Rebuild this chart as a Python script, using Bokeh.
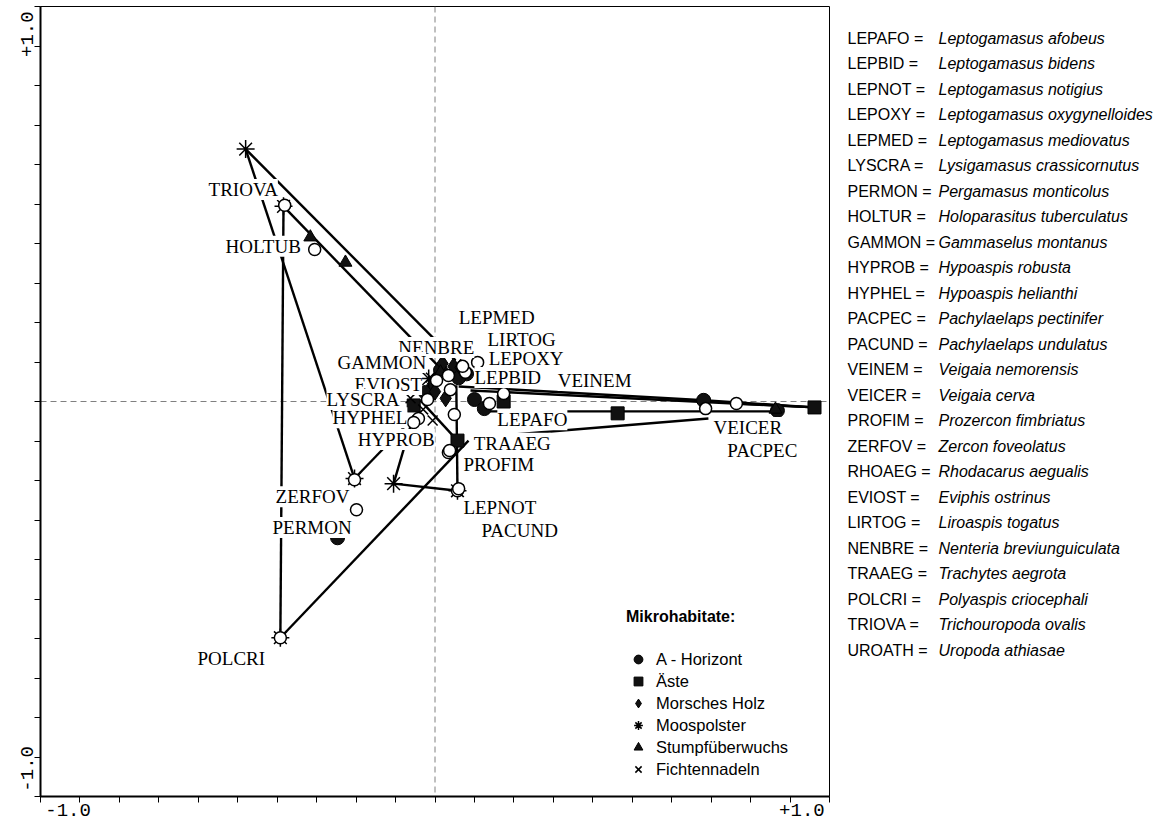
import math
from bokeh.plotting import figure
from bokeh.models import (Range1d, FixedTicker, CustomJSTickFormatter, Span,
                          Legend, LegendItem, ColumnDataSource)
from bokeh.layouts import row
from bokeh.embed import file_html
from bokeh.resources import INLINE
from bokeh.core.properties import value

# ---------------- species scores (open circles) ----------------
species = ["TRIOVA", "HOLTUB", "LEPMED", "LIRTOG", "LEPOXY", "NENBRE", "GAMMON",
           "EVIOST", "LYSCRA", "HYPHEL", "LEPBID", "VEINEM", "LEPAFO", "HYPROB",
           "TRAAEG", "PROFIM", "VEICER", "PACPEC", "ZERFOV", "PERMON", "LEPNOT",
           "PACUND", "POLCRI"]
sp_x = [-0.381, -0.305, 0.108, 0.077, 0.070, 0.034, 0.004,
        -0.019, -0.042, -0.054, 0.039, 0.174, 0.138, 0.049,
        0.034, 0.037, 0.686, 0.764, -0.204, -0.199, 0.057,
        0.060, -0.392]
sp_y = [0.497, 0.385, 0.099, 0.074, 0.089, 0.066, 0.053,
        0.005, -0.043, -0.053, 0.030, 0.020, -0.005, -0.033,
        -0.129, -0.124, -0.018, -0.005, -0.198, -0.274, -0.226,
        -0.221, -0.598]
# label anchor (left, middle) of each species name
lab_x = [-0.574, -0.531, 0.060, 0.133, 0.136, -0.093, -0.247,
         -0.204, -0.275, -0.260, 0.100, 0.311, 0.158, -0.196,
         0.098, 0.072, 0.706, 0.741, -0.404, -0.412, 0.072,
         0.118, -0.602]
lab_y = [0.537, 0.393, 0.213, 0.157, 0.109, 0.137, 0.099,
         0.043, 0.005, -0.041, 0.061, 0.053, -0.046, -0.096,
         -0.106, -0.160, -0.066, -0.124, -0.241, -0.319, -0.269,
         -0.327, -0.651]

# ---------------- samples per micro-habitat ----------------
ahor_x = [0.100, 0.125, 0.681, 0.868, -0.247, 0.014, -0.024, 0.080, 0.060]
ahor_y = [0.005, -0.018, 0.003, -0.023, -0.345, 0.079, 0.023, 0.070, 0.060]
aeste_x = [0.463, 0.962, 0.057, 0.174, -0.054]
aeste_y = [-0.030, -0.015, -0.099, 0.000, -0.010]
holz_x = [0.047, 0.019, 0.065, -0.006, 0.027, 0.000]
holz_y = [0.089, 0.096, 0.086, 0.043, 0.008, 0.025]
moos_x = [-0.480, -0.384, -0.105, -0.204, 0.057, -0.392, -0.016]
moos_y = [0.639, 0.494, -0.208, -0.195, -0.226, -0.598, 0.058]
stumpf_x = [-0.227, -0.316, 0.863, 0.014]
stumpf_y = [0.352, 0.416, -0.020, 0.074]
ficht_x = [-0.011, -0.006, -0.062, -0.030]
ficht_y = [0.061, -0.048, 0.008, -0.020]

# connecting lines between samples
seg_x0 = [-0.480, -0.480, -0.384, -0.384, -0.392, -0.105, -0.105, -0.204,
          0.054, -0.037, 0.060, 0.681, 0.115, 0.110, 0.764, 0.090]
seg_y0 = [0.639, 0.639, 0.494, 0.494, -0.598, -0.208, -0.208, -0.195,
          0.041, 0.003, 0.038, 0.003, -0.025, -0.091, -0.005, 0.028]
seg_x1 = [-0.204, 0.052, -0.392, 0.014, 0.085, 0.057, -0.054, -0.062,
          0.057, 0.057, 0.681, 0.962, 0.868, 0.693, 0.962, 0.962]
seg_y1 = [-0.195, 0.104, -0.598, 0.084, -0.099, -0.226, -0.035, -0.048,
          -0.226, -0.099, 0.003, -0.015, -0.025, -0.043, -0.015, -0.015]

habitats = ["A - Horizont", "Äste", "Morsches Holz", "Moospolster",
            "Stumpfüberwuchs", "Fichtennadeln"]

# species list on the right
codes = ["LEPAFO", "LEPBID", "LEPNOT", "LEPOXY", "LEPMED", "LYSCRA", "PERMON",
         "HOLTUR", "GAMMON", "HYPROB", "HYPHEL", "PACPEC", "PACUND", "VEINEM",
         "VEICER", "PROFIM", "ZERFOV", "RHOAEG", "EVIOST", "LIRTOG", "NENBRE",
         "TRAAEG", "POLCRI", "TRIOVA", "UROATH"]
names = ["Leptogamasus afobeus", "Leptogamasus bidens", "Leptogamasus notigius",
         "Leptogamasus oxygynelloides", "Leptogamasus mediovatus",
         "Lysigamasus crassicornutus", "Pergamasus monticolus",
         "Holoparasitus tuberculatus", "Gammaselus montanus", "Hypoaspis robusta",
         "Hypoaspis helianthi", "Pachylaelaps pectinifer", "Pachylaelaps undulatus",
         "Veigaia nemorensis", "Veigaia cerva", "Prozercon fimbriatus",
         "Zercon foveolatus", "Rhodacarus aegualis", "Eviphis ostrinus",
         "Liroaspis togatus", "Nenteria breviunguiculata", "Trachytes aegrota",
         "Polyaspis criocephali", "Trichouropoda ovalis", "Uropoda athiasae"]

axis_ticks = [i / 10 for i in range(-10, 11)]
axis_label_pos = [-0.93, 0.93]

# ---------------- main ordination plot ----------------
p = figure(width=831, height=824, x_range=Range1d(-1, 1), y_range=Range1d(-1, 1),
           output_backend="svg", toolbar_location=None,
           min_border_left=40, min_border_right=2, min_border_top=6, min_border_bottom=28)
p.background_fill_color = "white"
p.border_fill_color = "white"
p.outline_line_color = "black"
p.outline_line_width = 1
p.xgrid.visible = False
p.ygrid.visible = False

for ax in (p.xaxis[0], p.yaxis[0]):
    ax.ticker = FixedTicker(ticks=axis_label_pos, minor_ticks=axis_ticks)
    ax.formatter = CustomJSTickFormatter(code="return tick > 0 ? '+1.0' : '-1.0';")
    ax.major_tick_out = 0
    ax.major_tick_in = 0
    ax.minor_tick_out = 6
    ax.minor_tick_in = 0
    ax.minor_tick_line_color = "black"
    ax.axis_line_width = 2
    ax.axis_line_color = "black"
    ax.major_label_text_font = "Liberation Mono"
    ax.major_label_text_font_size = "19px"
    ax.major_label_text_color = "black"
    ax.major_label_standoff = 1
p.yaxis[0].major_label_orientation = "vertical"

for dim in ("width", "height"):
    s = Span(location=0, dimension=dim, line_color="#808080", line_width=1,
             line_dash="6 4", level="underlay")
    p.add_layout(s)

p.segment(seg_x0, seg_y0, seg_x1, seg_y1, line_color="black", line_width=2.4)

r_ah = p.scatter(ahor_x, ahor_y, marker="circle", size=14, fill_color="#111111",
                 line_color="black")
r_ae = p.scatter(aeste_x, aeste_y, marker="square", size=13, fill_color="#111111",
                 line_color="black")
r_mh = p.scatter(holz_x, holz_y, marker="diamond", size=17, fill_color="#111111",
                 line_color="black")
r_mo = p.scatter(moos_x, moos_y, marker="asterisk", size=18, angle=math.pi / 2,
                 line_color="black", line_width=1.5)
r_st = p.scatter(stumpf_x, stumpf_y, marker="triangle", size=13, fill_color="#111111",
                 line_color="black")
r_fi = p.scatter(ficht_x, ficht_y, marker="x", size=14, line_color="black",
                 line_width=1.5)

p.scatter(sp_x, sp_y, marker="circle", size=12, fill_color="white",
          line_color="black", line_width=1.5)

p.text(lab_x, lab_y, text=species, text_font=value("Liberation Serif"),
       text_font_size="19px", text_color="black", text_align="left",
       text_baseline="middle", background_fill_color="white")

legend = Legend(items=[LegendItem(label=h, renderers=[r])
                       for h, r in zip(habitats, [r_ah, r_ae, r_mh, r_mo, r_st, r_fi])],
                location=(586, 16), title="Mikrohabitate:")
legend.title_text_font = "Liberation Sans"
legend.title_text_font_style = "bold"
legend.title_text_font_size = "16px"
legend.title_text_color = "black"
legend.title_standoff = 22
legend.label_text_font = "Liberation Sans"
legend.label_text_font_size = "16.5px"
legend.label_text_color = "black"
legend.glyph_height = 22
legend.glyph_width = 24
legend.label_height = 22
legend.spacing = 0
legend.label_standoff = 6
legend.background_fill_alpha = 0
legend.border_line_color = None
p.add_layout(legend)

# ---------------- species list ----------------
q = figure(width=335, height=824, x_range=Range1d(0, 335), y_range=Range1d(824, 0),
           output_backend="svg", toolbar_location=None,
           min_border_left=0, min_border_right=0, min_border_top=0, min_border_bottom=0)
q.axis.visible = False
q.grid.visible = False
q.outline_line_color = None
q.background_fill_color = "white"
q.border_fill_color = "white"

rows = list(range(len(codes)))
src = ColumnDataSource(dict(code=[c + " =" for c in codes], name=names,
                            xc=[16] * len(codes), xn=[107] * len(codes),
                            y=[33 + 26.6 * i for i in rows]))
q.text("xc", "y", text="code", source=src, text_font=value("Liberation Sans"),
       text_font_size="16px", text_color="black", text_baseline="middle")
q.text("xn", "y", text="name", source=src, text_font=value("Liberation Sans"),
       text_font_size="16px", text_font_style="italic", text_color="black",
       text_baseline="middle")

layout = row(p, q)
open("out.html", "w").write(file_html(layout, INLINE))
